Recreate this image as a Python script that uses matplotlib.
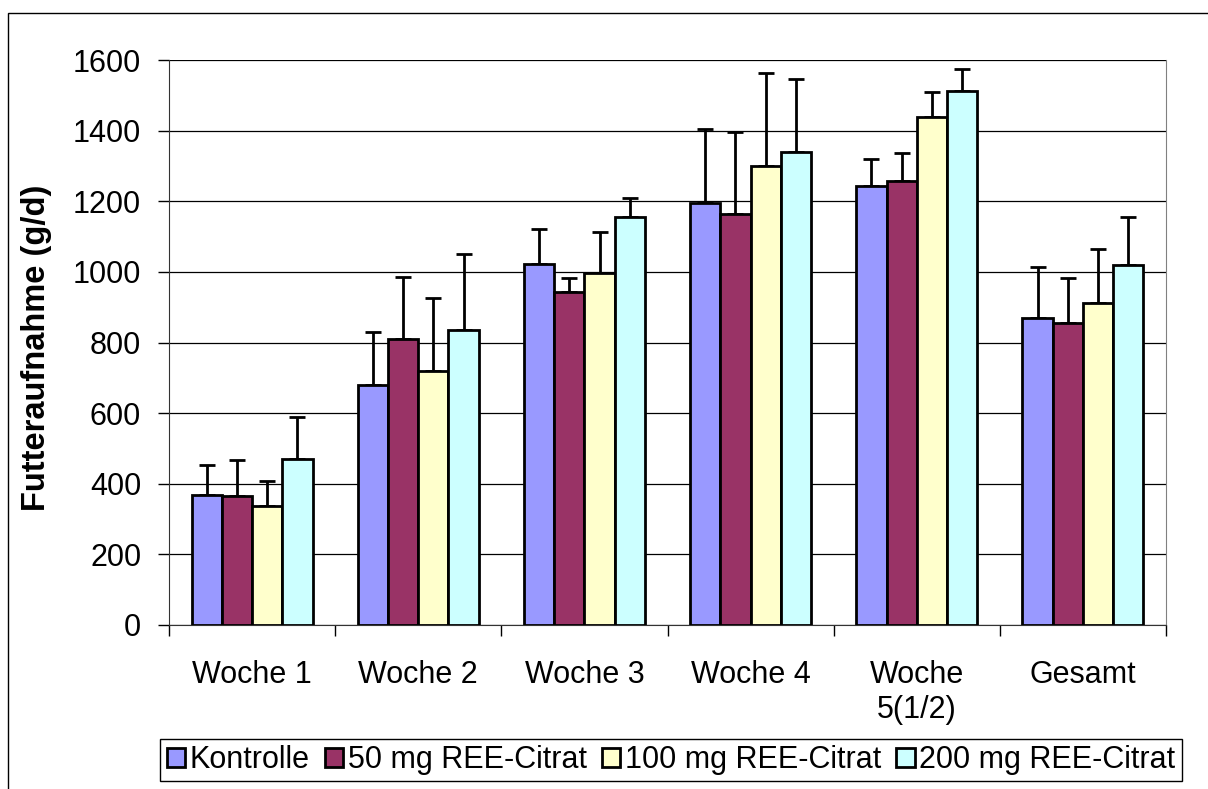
import numpy as np
import matplotlib.pyplot as plt
from matplotlib.patches import Rectangle

plt.rcParams['font.family'] = ['Liberation Sans', 'DejaVu Sans']

# data
categories = ['Woche 1', 'Woche 2', 'Woche 3', 'Woche 4', 'Woche\n5(1/2)', 'Gesamt']
series = ['Kontrolle', '50 mg REE-Citrat', '100 mg REE-Citrat', '200 mg REE-Citrat']
kontrolle = [368, 680, 1021, 1196, 1244, 868]
mg50 = [366, 809, 943, 1164, 1256, 855]
mg100 = [337, 718, 996, 1301, 1439, 911]
mg200 = [470, 835, 1155, 1339, 1512, 1019]
# upper end of the error bars
kontrolle_top = [452, 829, 1122, 1405, 1320, 1013]
mg50_top = [466, 986, 984, 1396, 1336, 984]
mg100_top = [408, 925, 1112, 1564, 1508, 1064]
mg200_top = [590, 1051, 1208, 1547, 1575, 1156]
colors = ['#9999FF', '#993366', '#FFFFCC', '#CCFFFF']

values = [kontrolle, mg50, mg100, mg200]
tops = [kontrolle_top, mg50_top, mg100_top, mg200_top]

W, H = 1208, 789
fig = plt.figure(figsize=(W / 100, H / 100), dpi=100)
ax = fig.add_axes([169 / W, 1 - 625 / H, (1166 - 169) / W, (625 - 60) / H])

# outer chart border
fig.patches.append(Rectangle((8 / W, -0.05), 1.2, 1 - 13 / H + 0.05, transform=fig.transFigure,
                             fill=False, edgecolor='black', linewidth=1))

x = np.arange(len(categories))
bw = 0.182
for i, (vals, top) in enumerate(zip(values, tops)):
    pos = x + (i - 1.5) * bw
    err = np.array(top) - np.array(vals)
    ax.bar(pos, vals, width=bw, color=colors[i], edgecolor='black', linewidth=2,
           label=series[i], zorder=3)
    ax.errorbar(pos, vals, yerr=[np.zeros_like(err), err], fmt='none', ecolor='black',
                elinewidth=2, capsize=5.5, capthick=2, zorder=2)

ax.set_xlim(-0.5, len(categories) - 0.5)
ax.set_ylim(0, 1600)
ax.set_yticks(np.arange(0, 1601, 200))
ax.yaxis.grid(True, color='black', linewidth=0.9, zorder=0)
ax.set_axisbelow(True)

ax.set_xticks(np.arange(len(categories) + 1) - 0.5)
ax.set_xticklabels([])
ax.set_xticks(x, minor=True)
ax.set_xticklabels(categories, minor=True, fontsize=22, linespacing=1.25)
ax.tick_params(axis='x', which='major', length=8, width=1, direction='out')
ax.tick_params(axis='x', which='minor', length=0, pad=25)
ax.tick_params(axis='y', length=8, width=1, labelsize=22, pad=12)

for s in ['left', 'bottom']:
    ax.spines[s].set_color('#333333')
ax.spines['right'].set_color('#808080')
ax.spines['top'].set_visible(False)

ax.set_ylabel('Futteraufnahme (g/d)', fontsize=23.5, fontweight='bold')
ax.yaxis.set_label_coords(-0.117, 0.49)

fig.legend(loc='center', bbox_to_anchor=(671 / W, 1 - 760 / H), ncol=4, fontsize=22,
           frameon=True, fancybox=False, edgecolor='black', framealpha=1,
           handlelength=0.6, handleheight=0.6, handletextpad=0.15, columnspacing=0.5,
           borderpad=0.2, borderaxespad=0)

fig.savefig('out.png', dpi=100)
